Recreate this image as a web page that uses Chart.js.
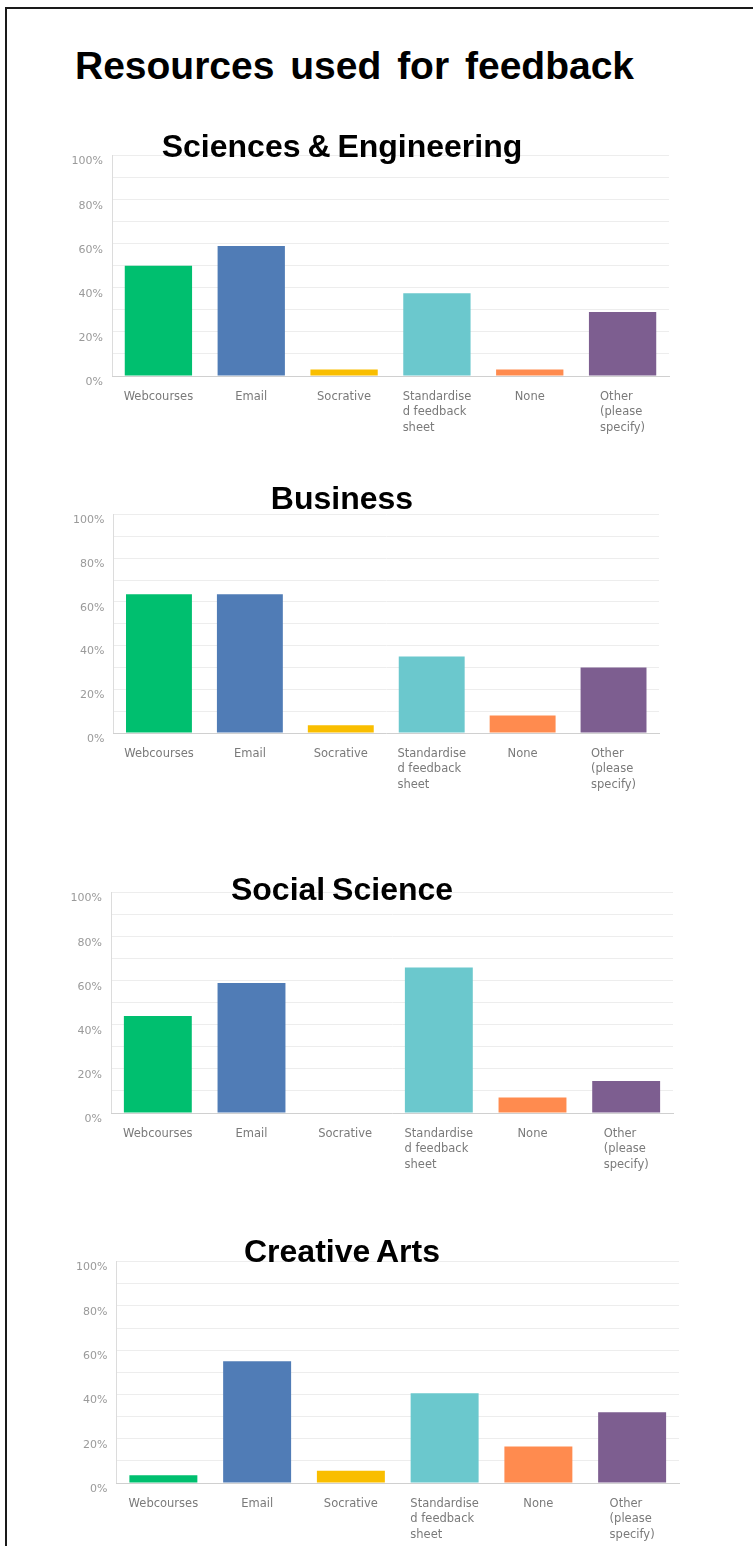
<!DOCTYPE html>
<html>
<head>
<meta charset="utf-8">
<script src="https://cdn.jsdelivr.net/npm/chart.js@4"></script>
<style>
  html, body { margin: 0; padding: 0; background: #fff; }
  #page { position: relative; width: 753px; height: 1546px; overflow: hidden; }
  #frame { position: absolute; left: 5px; top: 7px; right: -10px; bottom: -10px; border-top: 2px solid #1a1a1a; border-left: 2px solid #1a1a1a; }
  .heading { position: absolute; font-family: "Liberation Sans", Arial, sans-serif; font-weight: bold; color: #000; white-space: nowrap; }
  #mainTitle { left: 75px; top: 46px; font-size: 39px; line-height: 39px; word-spacing: 5px; }
  .subTitle { left: 0; width: 684px; text-align: center; font-size: 32px; line-height: 32px; word-spacing: -2px; }
  canvas { position: absolute; }
</style>
</head>
<body>
<div id="page">
  <div id="frame"></div>
  <div id="mainTitle" class="heading">Resources used for feedback</div>
</div>
<script>
// answer options, one entry per bar (each line of a label is its own string)
var categories = [
    ['Webcourses'],
    ['Email'],
    ['Socrative'],
    ['Standardise', 'd feedback', 'sheet'],
    ['None'],
    ['Other', '(please', 'specify)']
];

var barColors = ['#00bf6f', '#507cb6', '#f9be00', '#6bc8cd', '#ff8b4f', '#7d5e90'];

// % of respondents per faculty
var sciencesEngineering = [50, 59, 3, 37.5, 3, 29];
var business = [63.5, 63.5, 3.5, 35, 8, 30];
var socialScience = [44, 59, 0, 66, 7, 14.5];
var creativeArts = [3.5, 55, 5.5, 40.5, 16.5, 32];

// y axis: grid every 10, label every 20
var yTickStep = 10;
var yLabelStep = 20;

// where each panel sits on the page
var panels = [
    { title: 'Sciences & Engineering', data: sciencesEngineering, axisX: 112, right: 669, top: 154, base: 376, titleTop: 130 },
    { title: 'Business', data: business, axisX: 113.5, right: 659, top: 513, base: 733, titleTop: 482 },
    { title: 'Social Science', data: socialScience, axisX: 111, right: 673, top: 891, base: 1113, titleTop: 873 },
    { title: 'Creative Arts', data: creativeArts, axisX: 116.5, right: 679, top: 1260, base: 1483, titleTop: 1235 }
];

var PAD_TOP = 14, PAD_RIGHT = 8, PAD_BOTTOM = 62, LEFT = 60;

// x labels: lines left aligned inside a block centred under the bar
var wrappedLabels = {
    id: 'wrappedLabels',
    afterDraw: function (chart) {
        var ctx = chart.ctx;
        var xs = chart.scales.x;
        ctx.save();
        ctx.font = '11.5px "DejaVu Sans"';
        ctx.fillStyle = '#7a7a7a';
        ctx.textAlign = 'left';
        ctx.textBaseline = 'middle';
        categories.forEach(function (lines, i) {
            var cx = xs.getPixelForTick(i);
            var w = Math.max.apply(null, lines.map(function (l) { return ctx.measureText(l).width; }));
            lines.forEach(function (line, j) {
                ctx.fillText(line, cx - w / 2, chart.chartArea.bottom + 21 + j * 15.5);
            });
        });
        ctx.restore();
    }
};

var page = document.getElementById('page');

panels.forEach(function (p) {
    var t = document.createElement('div');
    t.className = 'heading subTitle';
    t.style.top = p.titleTop + 'px';
    t.textContent = p.title;

    var canvasTop = p.top - PAD_TOP;
    var w = p.right + PAD_RIGHT - LEFT;
    var h = p.base - canvasTop + PAD_BOTTOM;
    var box = document.createElement('div');
    box.style.cssText = 'position:absolute;left:' + LEFT + 'px;top:' + canvasTop + 'px;width:' + w + 'px;height:' + h + 'px;';
    var canvas = document.createElement('canvas');
    box.appendChild(canvas);
    page.appendChild(box);
    page.appendChild(t);

    new Chart(canvas.getContext('2d'), {
        type: 'bar',
        data: {
            labels: categories.map(function (c) { return c.join(' '); }),
            datasets: [{
                data: p.data,
                backgroundColor: barColors,
                borderWidth: 0,
                categoryPercentage: 1,
                barPercentage: 0.725
            }]
        },
        options: {
            responsive: true,
            maintainAspectRatio: false,
            animation: false,
            layout: { padding: { top: PAD_TOP, right: PAD_RIGHT, bottom: PAD_BOTTOM, left: 0 } },
            scales: {
                y: {
                    min: 0,
                    max: 100,
                    afterFit: function (scale) { scale.width = p.axisX - LEFT; },
                    border: { display: true, color: '#dcdcdc', width: 1 },
                    grid: { color: '#ededed', drawTicks: false },
                    ticks: {
                        stepSize: yTickStep,
                        autoSkip: false,
                        padding: 9,
                        labelOffset: 6,
                        color: '#9a9a9a',
                        font: { family: 'DejaVu Sans', size: 11 },
                        callback: function (value) {
                            return value % yLabelStep === 0 ? value + '%' : '';
                        }
                    }
                },
                x: {
                    afterFit: function (scale) { scale.height = 0; },
                    grid: { display: false },
                    border: { display: true, color: '#d0d0d0', width: 1 },
                    ticks: { display: false }
                }
            },
            plugins: {
                legend: { display: false },
                tooltip: { enabled: false }
            }
        },
        plugins: [wrappedLabels]
    });
});
</script>
</body>
</html>
